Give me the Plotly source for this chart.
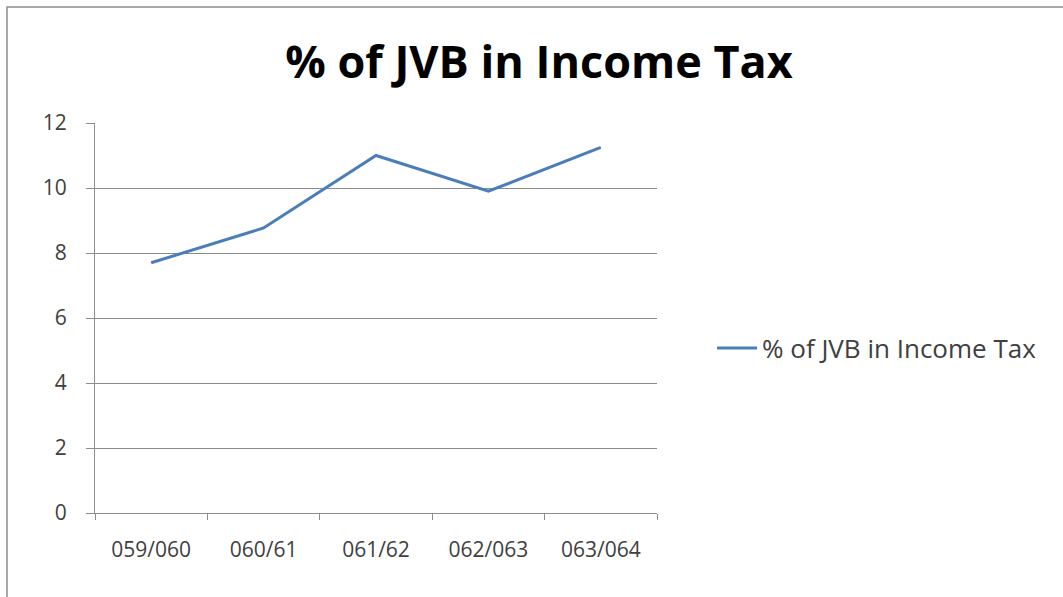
import plotly.graph_objects as go

# Fiscal years and share of JVB in income tax (%)
years = ["059/060", "060/61", "061/62", "062/063", "063/064"]
jvb_share = [7.7, 8.77, 11.0, 9.9, 11.25]
y_ticks = [0, 2, 4, 6, 8, 10, 12]

W, H = 1063, 597
L, R, T, B = 95, 657, 123, 513


def px_x(px):
    return (px - L) / (R - L)


def px_y(py):
    return (B - py) / (B - T)


fig = go.Figure()
fig.add_trace(go.Scatter(
    x=years, y=jvb_share, mode="lines",
    name="% of JVB in Income Tax",
    line=dict(color="#4A7EBB", width=3),
))

grey = "#8C8C8C"
fig.update_layout(
    width=W, height=H,
    margin=dict(l=L, r=W - R, t=T, b=H - B),
    paper_bgcolor="white", plot_bgcolor="white",
    font=dict(family="Open Sans, Noto Sans, sans-serif", color="#404040"),
    title=dict(
        text="<b>% of JVB in Income Tax</b>",
        x=539 / W, xanchor="center", xref="container",
        y=1 - 62 / H, yanchor="middle", yref="container",
        font=dict(size=45, color="#000000"),
    ),
    showlegend=True,
    legend=dict(
        x=px_x(712), xanchor="left", y=px_y(348), yanchor="middle",
        font=dict(size=26, color="#404040"),
        bgcolor="rgba(0,0,0,0)", itemwidth=40,
    ),
    xaxis=dict(
        type="category", range=[-0.5, len(years) - 0.5],
        showgrid=False, showline=True, linecolor=grey, linewidth=1,
        ticks="outside", tickson="boundaries", ticklen=6, tickcolor=grey,
        tickfont=dict(size=21), ticklabelstandoff=18,
    ),
    yaxis=dict(
        range=[0, 12], tickvals=y_ticks, showgrid=True, gridcolor=grey, gridwidth=1,
        showline=True, linecolor=grey, linewidth=1, zeroline=False,
        ticks="outside", ticklen=8, tickcolor=grey,
        tickfont=dict(size=21), ticklabelstandoff=15,
    ),
    shapes=[dict(
        type="rect", xref="paper", yref="paper",
        x0=px_x(7), x1=px_x(1080), y0=px_y(610), y1=px_y(7),
        line=dict(color="#8C8C8C", width=1.5), fillcolor="rgba(0,0,0,0)", layer="below",
    )],
)

fig.write_html("out.html")
